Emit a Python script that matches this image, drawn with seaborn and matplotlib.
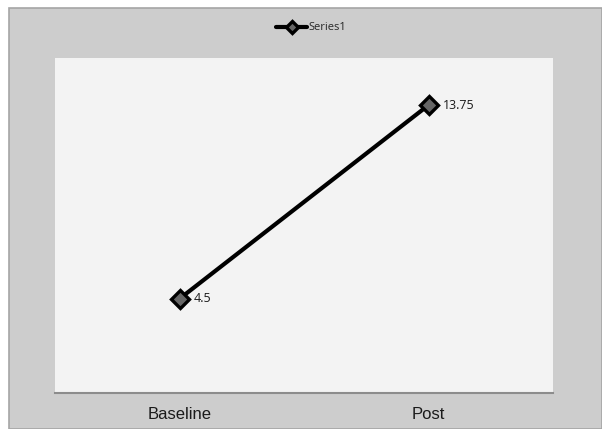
import matplotlib
matplotlib.use("Agg")
import matplotlib.pyplot as plt
from matplotlib.patches import Rectangle
import seaborn as sns
import pandas as pd

categories = ["Baseline", "Post"]
values = [4.5, 13.75]
series_name = "Series1"

df = pd.DataFrame({"phase": categories, "score": values, "series": series_name})

sns.set_theme(style="white")
plt.rcParams["font.family"] = ["Liberation Sans", "DejaVu Sans"]

W, H = 602, 429
fig = plt.figure(figsize=(W / 100, H / 100), dpi=100, facecolor="white")

# grey chart-area frame
frame = Rectangle((9 / W, 0), 1 - 9 / W, 1 - 8 / H, transform=fig.transFigure,
                  facecolor="#cdcdcd", edgecolor="#a5a5a5", linewidth=1.2, zorder=-10)
fig.add_artist(frame)

ax = fig.add_axes([55 / W, (H - 393) / H, (553 - 55) / W, (393 - 58) / H])
ax.set_zorder(1)
ax.set_facecolor("#f3f3f3")

sns.lineplot(data=df, x="phase", y="score", hue="series", palette=["black"],
             marker="D", markersize=9.5, markerfacecolor="#666666", markeredgecolor="black",
             markeredgewidth=2.4, linewidth=3, ax=ax, legend=True)

ax.set_xlim(-0.5, 1.5)
ax.set_ylim(0, 16)
ax.set_yticks([])
ax.set_xlabel("")
ax.set_ylabel("")
for s in ["top", "left", "right"]:
    ax.spines[s].set_visible(False)
ax.spines["bottom"].set_color("#8c8c8c")
ax.spines["bottom"].set_linewidth(1.5)
ax.tick_params(axis="x", length=0, pad=10, labelsize=12, colors="#1a1a1a")

# value labels beside each point
for i, v in enumerate(values):
    ax.annotate(f"{v:g}", (i, v), xytext=(14, 0), textcoords="offset pixels",
                va="center", ha="left", fontsize=9,
                family=["Open Sans", "DejaVu Sans"], color="#1a1a1a")

leg = ax.legend(loc="center", bbox_to_anchor=(311 / W, 1 - 28 / H), bbox_transform=fig.transFigure,
                frameon=False, handlelength=2.8, handletextpad=0.1,
                prop={"family": ["Open Sans", "DejaVu Sans"], "size": 8})
for h in leg.legend_handles:
    h.set_markersize(6)

fig.savefig("out.png", dpi=100, facecolor=fig.get_facecolor())
